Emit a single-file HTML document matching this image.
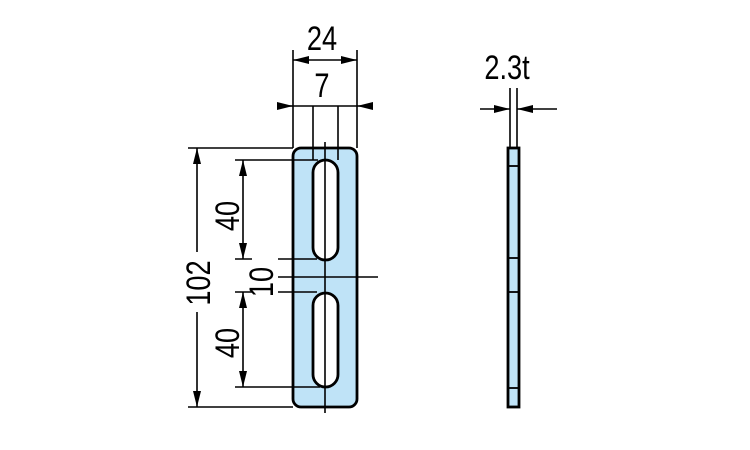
<!DOCTYPE html>
<html><head><meta charset="utf-8"><style>html,body{margin:0;padding:0;background:#fff}svg{display:block}text{font-family:"Liberation Sans",sans-serif;fill:#000}</style></head>
<body>
<svg width="750" height="450" viewBox="0 0 750 450" xmlns="http://www.w3.org/2000/svg">
<defs>
<marker id="b" viewBox="0 0 16 10" refX="16" refY="5" markerWidth="16" markerHeight="10" markerUnits="userSpaceOnUse" orient="auto-start-reverse"><path d="M0,1 L16,5 L0,9z" fill="#000"/></marker>
</defs>
<rect x="293" y="148" width="64" height="259" rx="8" fill="#bfe3f7" stroke="#000" stroke-width="2.8"/>
<rect x="313" y="160" width="25" height="100" rx="12.5" fill="#fff" stroke="#000" stroke-width="2.8"/>
<rect x="313" y="293" width="25" height="94" rx="12.5" fill="#fff" stroke="#000" stroke-width="2.8"/>
<g stroke="#000" stroke-width="1.6" fill="none">
<line x1="325" y1="142" x2="325" y2="413"/>
<line x1="293" y1="50" x2="293" y2="148"/>
<line x1="357" y1="50" x2="357" y2="148"/>
<line x1="313" y1="106" x2="313" y2="160"/>
<line x1="338" y1="106" x2="338" y2="160"/>
<line x1="293" y1="60" x2="357" y2="60" marker-start="url(#b)" marker-end="url(#b)"/>
<line x1="280" y1="106" x2="293" y2="106" marker-end="url(#b)"/>
<line x1="370" y1="106" x2="357" y2="106" marker-end="url(#b)"/>
<line x1="293" y1="106" x2="357" y2="106"/>
<line x1="188" y1="148" x2="293" y2="148"/>
<line x1="188" y1="407" x2="293" y2="407"/>
<line x1="197" y1="148" x2="197" y2="252" marker-start="url(#b)"/>
<line x1="197" y1="312" x2="197" y2="407" marker-end="url(#b)"/>
<line x1="235" y1="160" x2="318" y2="160"/>
<line x1="235" y1="259" x2="252" y2="259"/>
<line x1="278" y1="259" x2="317" y2="259"/>
<line x1="278" y1="277" x2="378" y2="277"/>
<line x1="235" y1="292" x2="252" y2="292"/>
<line x1="278" y1="292" x2="317" y2="292"/>
<line x1="235" y1="387" x2="320" y2="387"/>
<line x1="243" y1="160" x2="243" y2="259" marker-start="url(#b)" marker-end="url(#b)"/>
<line x1="243" y1="292" x2="243" y2="387" marker-start="url(#b)" marker-end="url(#b)"/>
<line x1="510" y1="88" x2="510" y2="148"/>
<line x1="517" y1="88" x2="517" y2="148"/>
<line x1="480" y1="109" x2="510" y2="109" marker-end="url(#b)"/>
<line x1="557" y1="109" x2="517" y2="109" marker-end="url(#b)"/>
</g>
<rect x="508" y="148" width="11" height="259" fill="#bfe3f7" stroke="#000" stroke-width="2.8"/>
<g stroke="#000" stroke-width="1.8">
<line x1="508" y1="166" x2="519" y2="166"/>
<line x1="508" y1="258" x2="519" y2="258"/>
<line x1="508" y1="292" x2="519" y2="292"/>
<line x1="508" y1="388" x2="519" y2="388"/>
</g>
<g font-size="34" text-anchor="middle">
<text transform="translate(322 50) scale(0.8 1)">24</text>
<text transform="translate(322 97) scale(0.8 1)">7</text>
<text transform="translate(507 79) scale(0.8 1)">2.3t</text>
<text transform="translate(210 283) rotate(-90) scale(0.8 1)">102</text>
<text transform="translate(239 216) rotate(-90) scale(0.8 1)">40</text>
<text transform="translate(239 343) rotate(-90) scale(0.8 1)">40</text>
<text transform="translate(273 282) rotate(-90) scale(0.8 1)">10</text>
</g>
</svg>
</body></html>
